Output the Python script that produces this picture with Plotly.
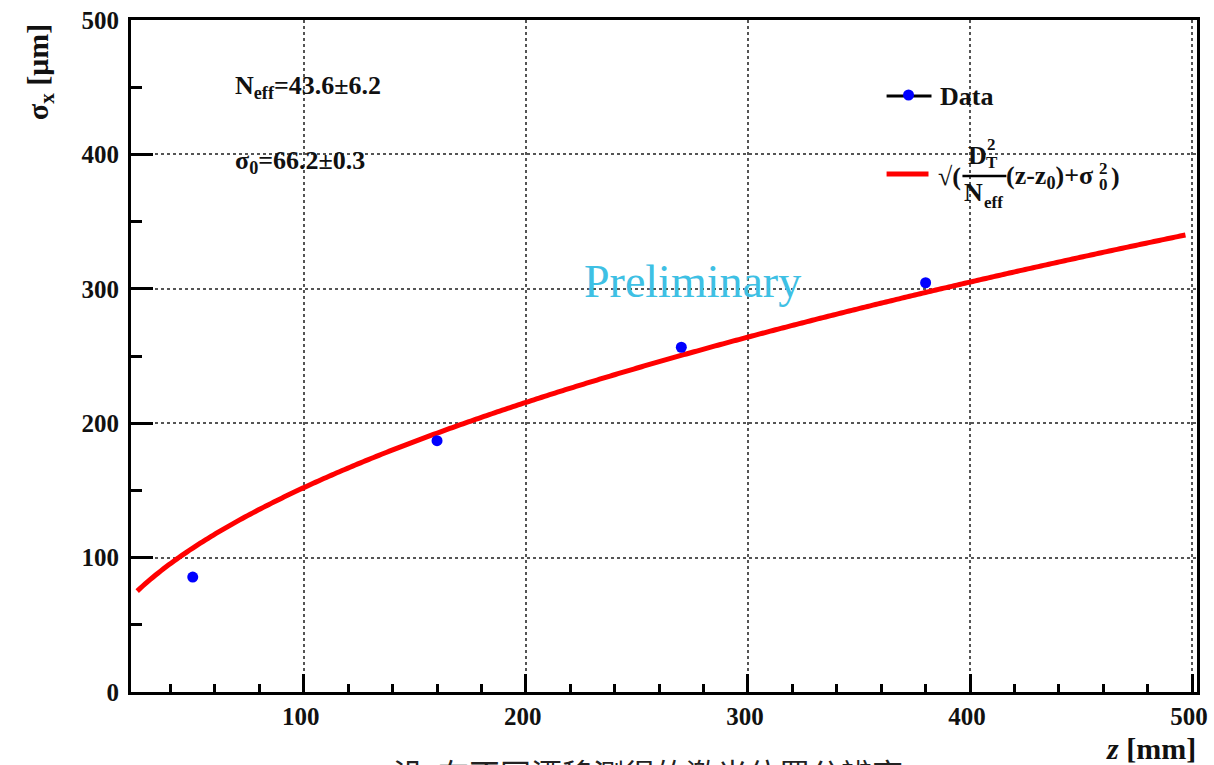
import numpy as np
import plotly.graph_objects as go

# Measured transverse resolution vs drift distance
drift_mm = [50, 160, 270, 380]
sigma_um = [85.5, 187.0, 256.5, 304.5]

# Fit parameters: sigma = sqrt(D_T^2 / N_eff * (z - z0) + sigma0^2)
N_EFF = 43.6
N_EFF_ERR = 6.2
SIGMA0 = 66.2
SIGMA0_ERR = 0.3
D_T = 100.8
Z0 = 19.6
FIT_RANGE = (25.0, 497.0)

X_RANGE = [22.2, 502.2]
Y_RANGE = [0, 500]

W, H = 1214, 765
L, R, T, B = 131, 1199, 20, 692

SERIF = "Liberation Serif"


def px(xp, yp):
    """Pixel position on the page -> paper coordinates."""
    return (xp - L) / (R - L), (B - yp) / (B - T)


z_fit = np.linspace(*FIT_RANGE, 400)
s_fit = np.sqrt(D_T ** 2 / N_EFF * (z_fit - Z0) + SIGMA0 ** 2)

fig = go.Figure()
fig.add_trace(go.Scatter(
    x=z_fit, y=s_fit, mode="lines",
    line=dict(color="#ff0000", width=5, simplify=False),
    showlegend=False, hoverinfo="skip"))
fig.add_trace(go.Scatter(
    x=drift_mm, y=sigma_um, mode="markers",
    marker=dict(color="#0000ff", size=11), showlegend=False))

axis_common = dict(
    showline=True, linewidth=3, linecolor="black", mirror=True,
    showgrid=True, gridcolor="#555555", gridwidth=1.5, griddash="dot",
    zeroline=False, ticks="inside", tickcolor="black", tickwidth=2.5,
    ticklabeloverflow="allow",
    tickfont=dict(family=SERIF, size=25, color="#111111", weight="bold"),
)

fig.update_xaxes(range=X_RANGE, tick0=0, dtick=100, ticklen=18,
                 ticklabelshift=-3,
                 minor=dict(dtick=20, tick0=0, ticklen=8, ticks="inside",
                            tickwidth=2.5, tickcolor="black", showgrid=False),
                 **axis_common)
fig.update_yaxes(range=Y_RANGE, tick0=0, dtick=100, ticklen=22,
                 ticklabelstandoff=4,
                 minor=dict(dtick=50, tick0=0, ticklen=11, ticks="inside",
                            tickwidth=2.5, tickcolor="black", showgrid=False),
                 **axis_common)

bold = dict(family=SERIF, size=26, color="#111111", weight="bold")
ann = []


def text(xp, yp, s, font=None, xanchor="left", yanchor="middle", **kw):
    x, y = px(xp, yp)
    ann.append(dict(x=x, y=y, xref="paper", yref="paper", text=s,
                    showarrow=False, xanchor=xanchor, yanchor=yanchor,
                    font=font or bold, **kw))


# Fit results
text(233, 87, f"N<sub>eff</sub>={N_EFF}±{N_EFF_ERR}")
text(233, 162, f"σ<sub>0</sub>={SIGMA0}±{SIGMA0_ERR}")

# Legend: data entry
shapes = []
x0, y0 = px(888, 96)
x1, _ = px(933, 96)
shapes.append(dict(type="line", xref="paper", yref="paper", x0=x0, x1=x1,
                   y0=y0, y1=y0, line=dict(color="black", width=3)))
cx, cy = px(910, 95)
rx, ry = 5.5 / (R - L), 5.5 / (B - T)
shapes.append(dict(type="circle", xref="paper", yref="paper",
                   x0=cx - rx, x1=cx + rx, y0=cy - ry, y1=cy + ry,
                   fillcolor="#0000ff", line=dict(width=0)))
text(940, 96, "Data")

# Legend: fit entry
x0, y0 = px(888, 174)
x1, _ = px(930, 174)
shapes.append(dict(type="line", xref="paper", yref="paper", x0=x0, x1=x1,
                   y0=y0, y1=y0, line=dict(color="#ff0000", width=5)))
text(938, 177, "√(")
fx0, fy = px(964, 176)
fx1, _ = px(1008, 176)
shapes.append(dict(type="line", xref="paper", yref="paper", x0=fx0, x1=fx1,
                   y0=fy, y1=fy, line=dict(color="black", width=2.5)))
small = dict(family=SERIF, size=17, color="#111111", weight="bold")
text(968, 156, "D")
text(987, 144, "2", font=small)
text(986, 162, "T", font=small)
text(964, 193, "N")
text(984, 202, "eff", font=small)
text(1006, 177, "(z-z<sub>0</sub>)+σ")
text(1099, 168, "2", font=small)
text(1099, 184, "0", font=small)
text(1111, 177, ")")

# Watermark
text(694, 282, "Preliminary",
     font=dict(family=SERIF, size=46, color="#3ec0e4"), xanchor="center")

# Axis titles
text(40, 22, "σ<sub>x</sub> [μm]",
     font=dict(family=SERIF, size=30, color="#111111", weight="bold"),
     xanchor="center", yanchor="top", textangle=-90)
text(1200, 748, "<i>z</i> [mm]",
     font=dict(family=SERIF, size=30, color="#111111", weight="bold"),
     xanchor="right")

# Caption below the frame
text(649, 772, "沿  在不同漂移测得的激光位置分辨率",
     font=dict(family="Noto Sans CJK SC", size=31, color="#222222"),
     xanchor="center")

fig.update_layout(
    width=W, height=H,
    margin=dict(l=L, r=W - R - 9, t=T, b=H - B),
    plot_bgcolor="white", paper_bgcolor="white",
    annotations=ann, shapes=shapes, showlegend=False,
)

# keep the page exactly the size of the figure
fig.write_html(
    "out.html",
    post_script="document.documentElement.style.overflow='hidden';"
                "document.body.style.overflow='hidden';",
)
